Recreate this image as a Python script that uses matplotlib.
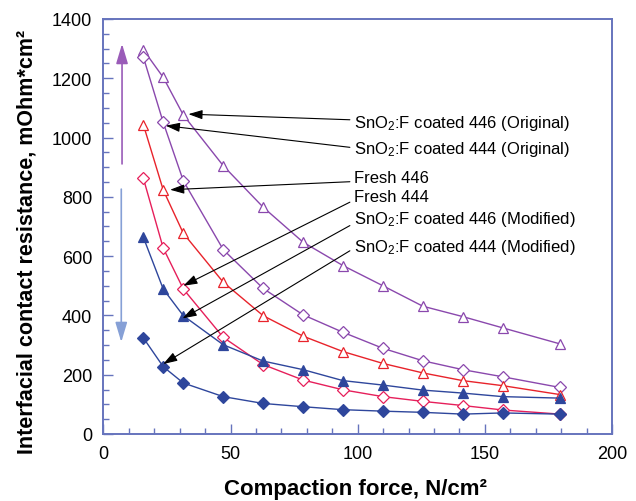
"""Interfacial contact resistance vs compaction force (446 / 444 samples)."""

import matplotlib.pyplot as plt
from matplotlib.ticker import MultipleLocator

plt.rcParams["font.family"] = ["Liberation Sans", "DejaVu Sans"]
plt.rcParams["mathtext.fontset"] = "custom"
plt.rcParams["mathtext.rm"] = "Liberation Sans"
plt.rcParams["mathtext.it"] = "Liberation Sans:italic"

COR_EIXO = "#6674bd"
COR_ROXO = "#8a48ad"
COR_VERM = "#e8232b"
COR_ROSA = "#e61f5b"
COR_AZUL = "#2e469c"

# compaction force, N/cm2
forca = [15.7, 23.5, 31.4, 47.1, 62.8, 78.5, 94.2, 109.9, 125.6, 141.3, 157.0, 179.5]

# ICR, mOhm*cm2
orig_446 = [1296, 1203, 1076, 905, 765, 647, 568, 500, 431, 396, 358, 304]
orig_444 = [1271, 1051, 854, 622, 491, 402, 343, 289, 247, 217, 193, 157]
fresh_446 = [1043, 823, 677, 512, 399, 330, 278, 238, 206, 180, 163, 133]
fresh_444 = [862, 627, 489, 326, 234, 182, 149, 126, 110, 96, 81, 67]
mod_446 = [663, 489, 399, 301, 246, 217, 180, 165, 148, 138, 126, 121]
mod_444 = [324, 227, 172, 126, 103, 92, 82, 77, 73, 67, 71, 67]

rotulos = [
    r"SnO$_\mathregular{2}$:F coated 446 (Original)",
    r"SnO$_\mathregular{2}$:F coated 444 (Original)",
    "Fresh 446",
    "Fresh 444",
    r"SnO$_\mathregular{2}$:F coated 446 (Modified)",
    r"SnO$_\mathregular{2}$:F coated 444 (Modified)",
]
# where each label sits (baseline) and where its arrow points
rotulo_y = [1037, 948, 851, 787, 711, 618]
linha_y = [1060, 967, 851, 782, 703, 618]
seta_x = [33.4, 24.5, 26.2, 31.4, 31.1, 23.5]
seta_y = [1079, 1040, 824, 500, 390, 236]

series = [
    (orig_446, COR_ROXO, "^", "white"),
    (orig_444, COR_ROXO, "D", "white"),
    (fresh_446, COR_VERM, "^", "white"),
    (fresh_444, COR_ROSA, "D", "white"),
    (mod_446, COR_AZUL, "^", COR_AZUL),
    (mod_444, COR_AZUL, "D", COR_AZUL),
]

fig = plt.figure(figsize=(6.36, 5.02), dpi=100)
ax = fig.add_axes([0.1627, 0.1335, 0.7996, 0.8267])

for ys, cor, mk, face in series:
    ms = 7.5 if mk == "^" else 6
    ax.plot(forca, ys, color=cor, linewidth=1.0, marker=mk, markersize=ms,
            markerfacecolor=face, markeredgecolor=cor, markeredgewidth=0.9)

# labels + arrows
for txt, ty, ly, sx, sy in zip(rotulos, rotulo_y, linha_y, seta_x, seta_y):
    ax.text(98.5, ty, txt, fontsize=12, va="baseline", ha="left")
    ax.annotate("", xy=(sx, sy), xytext=(96.9, ly),
                arrowprops=dict(arrowstyle="-|>,head_length=0.85,head_width=0.28",
                                color="black", lw=0.8, shrinkA=0, shrinkB=0,
                                mutation_scale=10))

# vertical trend arrows
ax.annotate("", xy=(7.3, 1316), xytext=(7.3, 911),
            arrowprops=dict(arrowstyle="-|>,head_length=1.0,head_width=0.3",
                            color="#9a5cb8", lw=1.2, shrinkA=0, shrinkB=0,
                            mutation_scale=12))
ax.annotate("", xy=(7.0, 310), xytext=(7.0, 826),
            arrowprops=dict(arrowstyle="-|>,head_length=1.0,head_width=0.3",
                            color="#86a0d6", lw=1.2, shrinkA=0, shrinkB=0,
                            mutation_scale=12))

ax.set_xlim(0, 200)
ax.set_ylim(0, 1400)
ax.xaxis.set_major_locator(MultipleLocator(50))
ax.xaxis.set_minor_locator(MultipleLocator(10))
ax.yaxis.set_major_locator(MultipleLocator(200))
ax.yaxis.set_minor_locator(MultipleLocator(50))
ax.tick_params(which="both", direction="in", color=COR_EIXO, labelsize=13,
               top=False, right=False)
ax.tick_params(which="major", length=7, width=1.0, pad=8)
ax.tick_params(which="minor", length=4, width=1.0)
for sp in ax.spines.values():
    sp.set_color(COR_EIXO)
    sp.set_linewidth(1.4)

ax.set_xlabel("Compaction force, N/cm²", fontsize=16, fontweight="bold")
ax.set_ylabel("Interfacial contact resistance, mOhm*cm²", fontsize=15.5,
              fontweight="bold")
ax.xaxis.set_label_coords(0.496, -0.106)
ax.yaxis.set_label_coords(-0.13, 0.465)

fig.savefig("out.png", dpi=100, facecolor="white")
